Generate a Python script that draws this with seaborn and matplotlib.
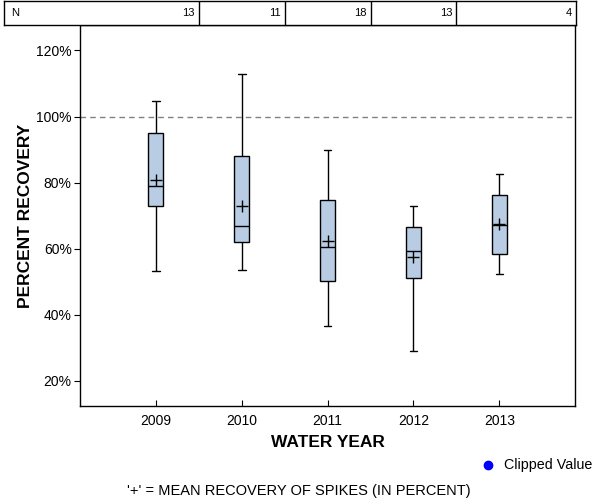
import numpy as np
import pandas as pd
import matplotlib
matplotlib.use("Agg")
import matplotlib.pyplot as plt
from matplotlib.ticker import PercentFormatter
from matplotlib.lines import Line2D
from matplotlib.transforms import offset_copy
import seaborn as sns

# ---- data ----
years = ["2009", "2010", "2011", "2012", "2013"]
counts = [13, 11, 18, 13, 4]
whisker_low = [53.2, 53.5, 36.5, 29.0, 52.3]
q1 = [72.9, 61.9, 50.1, 51.1, 58.3]
median = [78.9, 66.8, 60.4, 59.2, 67.1]
q3 = [95.0, 88.0, 74.6, 66.5, 76.2]
whisker_high = [104.7, 113.0, 89.8, 73.0, 82.5]
means = [80.9, 72.8, 62.4, 57.6, 67.5]
yticks = [20, 40, 60, 80, 100, 120]

# five-number summaries in long form (linear percentiles of these reproduce them)
rows = []
for i, y in enumerate(years):
    for v in (whisker_low[i], q1[i], median[i], q3[i], whisker_high[i]):
        rows.append({"year": y, "value": v})
df = pd.DataFrame(rows)
df_mean = pd.DataFrame({"year": years, "mean": means})

sns.set_theme(style="white")
plt.rcParams["font.family"] = ["Liberation Sans", "DejaVu Sans"]
plt.rcParams["text.color"] = "black"
plt.rcParams["axes.labelcolor"] = "black"

fig = plt.figure(figsize=(6, 5), dpi=100)
W, H = 600, 500
ax = fig.add_axes([80 / W, 1 - 406 / H, (575 - 80) / W, (406 - 25) / H])

sns.boxplot(data=df, x="year", y="value", order=years, whis=(0, 100),
            width=0.175, color="#B8CCE4", saturation=1, linecolor="black",
            linewidth=1, showfliers=False, ax=ax)
sns.pointplot(data=df_mean, x="year", y="mean", order=years, errorbar=None,
              markers="+", linestyle="none", color="black", markersize=9,
              markeredgewidth=1, ax=ax)

ax.axhline(100, color="#808080", linestyle=(0, (4, 3)), linewidth=1, zorder=0)

ax.set_xlim(-0.885, 4.882)
ax.set_ylim(12.4, 127.7)
ax.set_yticks(yticks)
ax.yaxis.set_major_formatter(PercentFormatter(decimals=0))
ax.tick_params(axis="y", direction="out", length=4, width=0.8, labelsize=10,
               pad=2, colors="black", left=True)
ax.tick_params(axis="x", direction="in", length=4, width=0.8, labelsize=10,
               pad=6, colors="black", bottom=True)
for s in ax.spines.values():
    s.set_visible(True)
    s.set_color("black")
    s.set_linewidth(1)

ax.set_xlabel("WATER YEAR", fontsize=12.5, fontweight="bold", color="black")
ax.set_ylabel("PERCENT RECOVERY", fontsize=12.5, fontweight="bold", color="black")
ax.xaxis.set_label_coords(0.5, -0.097)
ax.xaxis.label.set_va("center")
ax.yaxis.set_label_coords(-0.111, 0.5)
ax.yaxis.label.set_va("center")

# ---- N table on top ----
tx0, tx1 = 4, 576
tax = fig.add_axes([tx0 / W, 1 - 25 / H, (tx1 - tx0) / W, 24 / H])
tax.set_xlim((tx0 - 156.0) / 85.83, (tx1 - 156.0) / 85.83)
tax.set_ylim(0, 1)
tax.set_xticks([])
tax.set_yticks([])
for s in tax.spines.values():
    s.set_visible(True)
    s.set_color("black")
    s.set_linewidth(1)
for i in range(len(years) - 1):
    tax.axvline(i + 0.5, color="black", linewidth=1)
tax.text(0.012, 0.5, "N", transform=tax.transAxes, ha="left", va="center",
         fontsize=8, color="black")
shift = offset_copy(tax.transData, fig=fig, x=-4, y=0, units="dots")
for i, n in enumerate(counts):
    xr = i + 0.5 if i < len(years) - 1 else tax.get_xlim()[1]
    tax.text(xr, 0.5, str(n), transform=shift, ha="right", va="center",
             fontsize=8, color="black")

# ---- legend and footnote ----
fig.add_artist(Line2D([488 / W], [1 - 465 / H], marker="o", color="blue",
                      markersize=6, linestyle="none", transform=fig.transFigure))
fig.text(504 / W, 1 - 465 / H, "Clipped Value", ha="left", va="center",
         fontsize=10.3, color="black")
fig.text(299 / W, 1 - 491 / H, "'+' = MEAN RECOVERY OF SPIKES (IN PERCENT)",
         ha="center", va="center", fontsize=10.5, color="black")

fig.savefig("out.png", dpi=100)
